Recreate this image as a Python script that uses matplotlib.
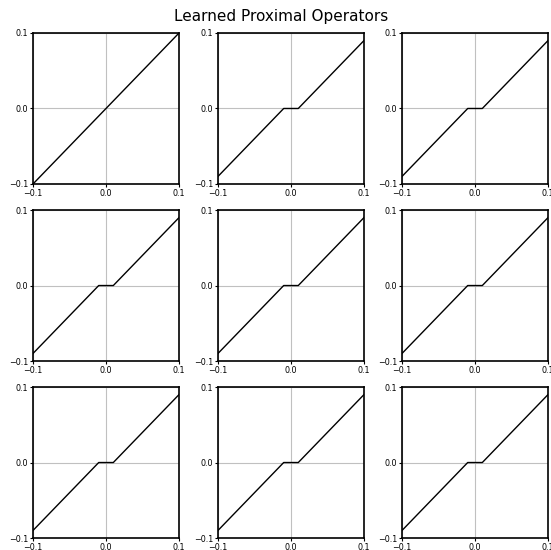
import numpy as np
import matplotlib
matplotlib.use("Agg")
import matplotlib.pyplot as plt

# soft threshold of each learned prox operator (first one is identity)
thresholds = [0.0, 0.01, 0.01, 0.01, 0.01, 0.01, 0.01, 0.01, 0.01]
x_in = [-0.1, -0.01, 0.01, 0.1]
ticks = [-0.1, 0.0, 0.1]
tick_labels = ['−0.1', '0.0', '0.1']

fig = plt.figure(figsize=(5.51, 5.5), dpi=100)
fig.suptitle('Learned Proximal Operators', fontsize=11, x=0.51, y=0.984)

lefts = [0.0599, 0.3956, 0.7296]
bottoms = [0.6655, 0.3436, 0.0218]
w, h = 0.265, 0.2745

for ii in range(9):
    r, c = ii // 3, ii % 3
    ax = fig.add_axes([lefts[c], bottoms[r], w, h])
    lam = thresholds[ii]
    x = np.array(x_in)
    y = np.sign(x) * np.maximum(np.abs(x) - lam, 0)
    ax.plot(x, y, color='black', lw=1.0)
    ax.set_xlim(-0.1, 0.1)
    ax.set_ylim(-0.1, 0.1)
    ax.set_xticks(ticks)
    ax.set_yticks(ticks)
    ax.set_xticklabels(tick_labels)
    ax.set_yticklabels(tick_labels)
    ax.tick_params(labelsize=5.8, length=2.5, width=0.8, pad=1.0)
    ax.grid(True, color='#c0c0c0', lw=0.8)
    for s in ax.spines.values():
        s.set_linewidth(1.2)

fig.savefig('out.png', dpi=100)
